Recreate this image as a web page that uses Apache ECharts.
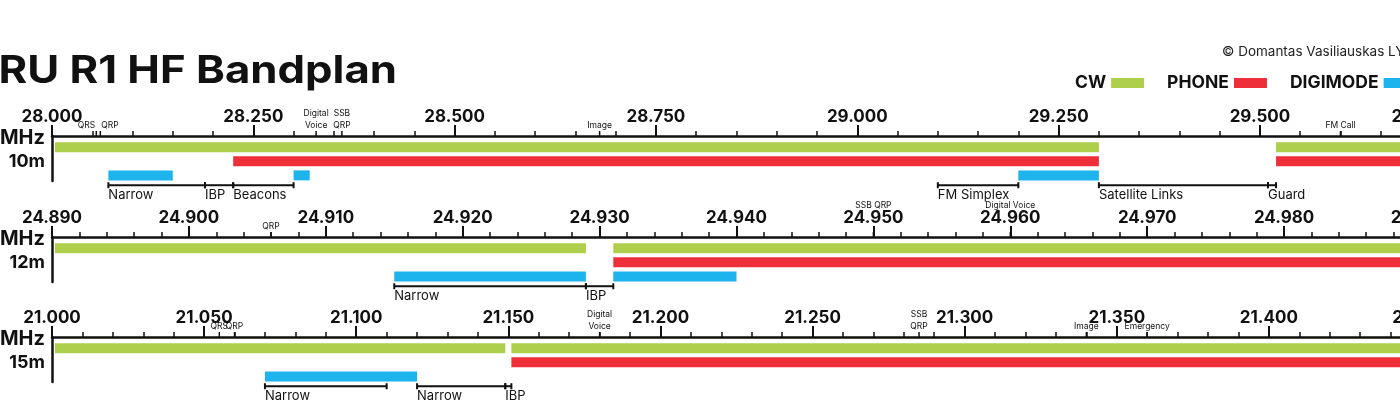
<!DOCTYPE html>
<html lang="en">
<head>
  <meta charset="UTF-8">
  <title>IARU R1 HF Bandplan</title>
  <style>
    html, body { margin: 0; padding: 0; background: #fff; }
    #chart { width: 1400px; height: 400px; }
  </style>
</head>
<body>
  <div id="chart"></div>
  <script src="https://cdn.jsdelivr.net/npm/echarts/dist/echarts.min.js"></script>
  <script>
    // bands, ranges in MHz
    var bands = ['10m', '12m', '15m'];
    var bandMin = [28.000, 24.890, 21.000];
    var bandMax = [29.700, 24.990, 21.450];
    var majorStep = [0.25, 0.01, 0.05];
    var minorStep = [0.05, 0.002, 0.01];

    // mode segments [from, to]
    var cw10 = [[28.000, 29.300], [29.520, 29.700]];
    var phone10 = [[28.225, 29.300], [29.520, 29.700]];
    var digi10 = [[28.070, 28.150], [28.300, 28.320], [29.200, 29.300]];

    var cw12 = [[24.890, 24.929], [24.931, 24.990]];
    var phone12 = [[24.931, 24.990]];
    var digi12 = [[24.915, 24.929], [24.931, 24.940]];

    var cw15 = [[21.000, 21.149], [21.151, 21.450]];
    var phone15 = [[21.151, 21.450]];
    var digi15 = [[21.070, 21.120]];

    // sub-band brackets [from, to, label]
    var brackets10 = [[28.070, 28.190, 'Narrow'], [28.190, 28.225, 'IBP'], [28.225, 28.300, 'Beacons'],
      [29.100, 29.200, 'FM Simplex'], [29.300, 29.510, 'Satellite Links'], [29.510, 29.520, 'Guard']];
    var brackets12 = [[24.915, 24.929, 'Narrow'], [24.929, 24.931, 'IBP']];
    var brackets15 = [[21.070, 21.110, 'Narrow'], [21.120, 21.149, 'Narrow'], [21.149, 21.151, 'IBP']];

    // spot frequencies [freq, label]
    var markers10 = [[28.055, 'QRS'], [28.060, 'QRP'], [28.328, 'Digital\nVoice'], [28.360, 'SSB\nQRP'],
      [28.680, 'Image'], [29.600, 'FM Call']];
    var markers12 = [[24.906, 'QRP'], [24.950, 'SSB QRP'], [24.960, 'Digital Voice']];
    var markers15 = [[21.055, 'QRS'], [21.060, 'QRP'], [21.180, 'Digital\nVoice'], [21.285, 'SSB\nQRP'],
      [21.340, 'Image'], [21.360, 'Emergency']];

    var modes = ['CW', 'PHONE', 'DIGIMODE'];
    var modeColors = ['#adcf4b', '#ee2e38', '#1db3ec'];
    var segs = [[cw10, phone10, digi10], [cw12, phone12, digi12], [cw15, phone15, digi15]];
    var brackets = [brackets10, brackets12, brackets15];
    var markers = [markers10, markers12, markers15];

    var FONT = 'Inter, "Noto Sans", sans-serif';
    var INK = '#111';
    var axisTop = [136, 237, 337];
    var Y_TOP = -0.8, Y_BOT = 2.4, BRACKET_ROW = 2.7;

    var chart = echarts.init(document.getElementById('chart'));

    var grids = [], xAxes = [], yAxes = [], series = [], graphics = [];

    bands.forEach(function (band, b) {
      grids.push({ left: 52, width: 1369, top: axisTop[b], height: 45, outerBoundsMode: 'none', containLabel: false });
      // major axis with labels
      xAxes.push({
        gridIndex: b, type: 'value', position: 'top',
        min: bandMin[b], max: bandMax[b], interval: majorStep[b],
        axisLine: { onZero: false, lineStyle: { color: INK, width: 2.5 } },
        axisTick: { length: 11, lineStyle: { color: INK, width: 2 } },
        axisLabel: {
          margin: 11, color: INK, fontFamily: FONT, fontWeight: 'bold', fontSize: 17,
          hideOverlap: false,
          formatter: function (v) { return v.toFixed(3); }
        },
        splitLine: { show: false }
      });
      // minor ticks
      xAxes.push({
        gridIndex: b, type: 'value', position: 'top',
        min: bandMin[b], max: bandMax[b], interval: minorStep[b],
        axisLine: { show: false, onZero: false },
        axisTick: { length: 5, lineStyle: { color: INK, width: 1.5 } },
        axisLabel: { show: false },
        splitLine: { show: false }
      });
      yAxes.push({
        gridIndex: b, type: 'value', inverse: true, min: Y_TOP, max: Y_BOT,
        axisLine: { show: true, onZero: false, lineStyle: { color: INK, width: 2.5 } },
        axisTick: { show: false }, axisLabel: { show: false }, splitLine: { show: false }
      });

      // mode bars
      modes.forEach(function (mode, row) {
        series.push({
          type: 'custom', name: mode, xAxisIndex: 2 * b, yAxisIndex: b,
          itemStyle: { color: modeColors[row] },
          data: segs[b][row],
          renderItem: function (params, api) {
            var p0 = api.coord([api.value(0), row]);
            var p1 = api.coord([api.value(1), row]);
            var x0 = p0[0];
            if (api.value(0) === bandMin[b]) x0 += 3;
            return {
              type: 'rect',
              shape: { x: x0, y: p0[1] - 5, width: p1[0] - x0, height: 10 },
              style: { fill: modeColors[row] }
            };
          }
        });
      });

      // brackets
      series.push({
        type: 'custom', name: 'brackets' + b, xAxisIndex: 2 * b, yAxisIndex: b,
        data: brackets[b].map(function (d) { return [d[0], d[1]]; }),
        renderItem: function (params, api) {
          var p0 = api.coord([api.value(0), BRACKET_ROW]);
          var p1 = api.coord([api.value(1), BRACKET_ROW]);
          var y = p0[1];
          var st = { stroke: INK, lineWidth: 2 };
          return {
            type: 'group', children: [
              { type: 'line', shape: { x1: p0[0], y1: y, x2: p1[0], y2: y }, style: st },
              { type: 'line', shape: { x1: p0[0], y1: y - 3, x2: p0[0], y2: y + 3 }, style: st },
              { type: 'line', shape: { x1: p1[0], y1: y - 3, x2: p1[0], y2: y + 3 }, style: st },
              {
                type: 'text', x: p0[0], y: y + 3,
                style: {
                  text: brackets[b][params.dataIndex][2], fill: INK, fontFamily: FONT, fontSize: 13,
                  align: 'left', verticalAlign: 'top'
                }
              }
            ]
          };
        }
      });

      // spot markers above the axis
      series.push({
        type: 'custom', name: 'markers' + b, xAxisIndex: 2 * b, yAxisIndex: b,
        data: markers[b].map(function (d) { return [d[0], Y_TOP]; }),
        renderItem: function (params, api) {
          var list = markers[b];
          var i = params.dataIndex;
          var p = api.coord([list[i][0], Y_TOP]);
          var align = 'center';
          if (i + 1 < list.length && api.coord([list[i + 1][0], Y_TOP])[0] - p[0] < 10) align = 'right';
          if (i > 0 && p[0] - api.coord([list[i - 1][0], Y_TOP])[0] < 10) align = 'left';
          // sits on a labelled tick -> lift above the label
          var k = Math.round((list[i][0] - bandMin[b]) / majorStep[b]);
          var onMajor = Math.abs(bandMin[b] + k * majorStep[b] - list[i][0]) < 1e-6;
          var ty = onMajor ? p[1] - 26 : p[1] - 5;
          return {
            type: 'group', children: [
              { type: 'line', shape: { x1: p[0], y1: p[1], x2: p[0], y2: p[1] - 5 }, style: { stroke: INK, lineWidth: 1.5 } },
              {
                type: 'text', x: p[0] + (align === 'left' ? 1 : align === 'right' ? -1 : 0), y: ty,
                style: {
                  text: list[i][1], fill: INK, fontFamily: FONT, fontSize: 8.5, lineHeight: 12,
                  align: align, verticalAlign: 'bottom'
                }
              }
            ]
          };
        }
      });

      graphics.push({
        type: 'text', x: 45, y: axisTop[b] + 2,
        style: { text: 'MHz', fill: INK, fontFamily: FONT, fontWeight: 'bold', fontSize: 20, align: 'right', verticalAlign: 'middle' }
      });
      graphics.push({
        type: 'text', x: 45, y: axisTop[b] + 26,
        style: { text: band, fill: INK, fontFamily: FONT, fontWeight: 'bold', fontSize: 18, align: 'right', verticalAlign: 'middle' }
      });
    });

    graphics.push({
      type: 'text', x: 397, y: 72, scaleX: 1.15,
      style: { text: 'IARU R1 HF Bandplan', fill: INK, fontFamily: FONT, fontWeight: 'bold', fontSize: 38, align: 'right', verticalAlign: 'middle' }
    });
    graphics.push({
      type: 'text', x: 1222, y: 52,
      style: { text: '© Domantas Vasiliauskas LY', fill: '#222', fontFamily: FONT, fontSize: 13.5, align: 'left', verticalAlign: 'middle' }
    });

    chart.setOption({
      animation: false,
      backgroundColor: '#fff',
      grid: grids,
      xAxis: xAxes,
      yAxis: yAxes,
      legend: {
        left: 1075, top: 74, width: 420, padding: 0, align: 'right', icon: 'rect',
        itemWidth: 33, itemHeight: 10, itemGap: 23, selectedMode: false,
        data: modes,
        textStyle: { color: INK, fontFamily: FONT, fontWeight: 'bold', fontSize: 17.5 }
      },
      graphic: graphics,
      series: series
    });
  </script>
</body>
</html>
